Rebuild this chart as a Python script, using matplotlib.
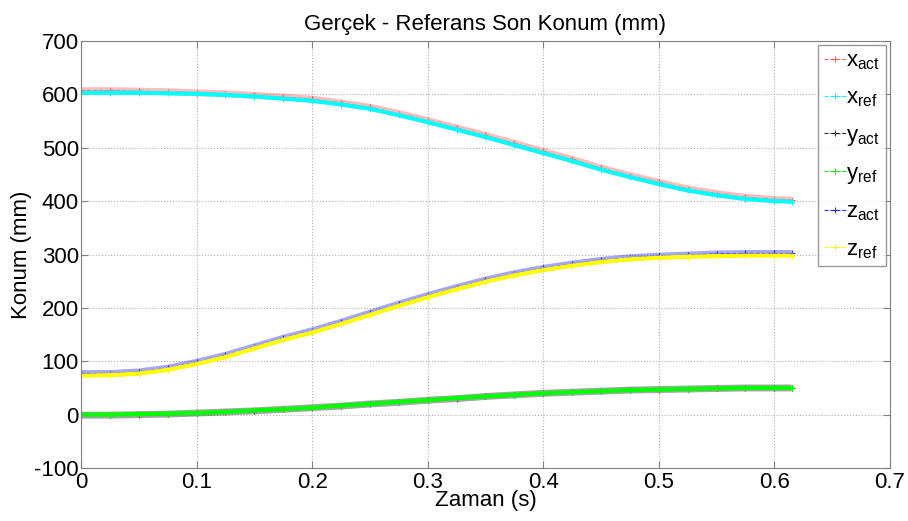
import matplotlib
matplotlib.use("Agg")
import matplotlib.pyplot as plt
import numpy as np

plt.rcParams['font.family'] = ['Liberation Sans', 'DejaVu Sans']
plt.rcParams['mathtext.fontset'] = 'custom'
plt.rcParams['mathtext.rm'] = 'Liberation Sans'
plt.rcParams['mathtext.it'] = 'Liberation Sans'
plt.rcParams['axes.unicode_minus'] = False

# zaman ekseni (s)
t = [0, 0.025, 0.05, 0.075, 0.1, 0.125, 0.15, 0.175, 0.2, 0.225, 0.25, 0.275, 0.3,
     0.325, 0.35, 0.375, 0.4, 0.425, 0.45, 0.475, 0.5, 0.525, 0.55, 0.575, 0.6, 0.615]

x_act = [607, 607, 606, 605, 603, 601, 598, 595, 591, 584, 576, 564, 551,
         537, 523, 508, 493, 478, 462, 448, 435, 423, 414, 407, 403, 402]
x_ref = [603, 603, 603, 602, 601, 599, 596, 592, 588, 581, 573, 561, 548,
         534, 520, 505, 490, 475, 459, 445, 432, 420, 411, 404, 400, 399]
y_act = [-1, -1, 0, 1, 3, 5, 7, 10, 13, 16, 20, 23, 27,
         30, 34, 37, 40, 42, 44, 46, 47, 48, 49, 50, 50, 50]
y_ref = [0, 0, 1, 2, 3, 5, 8, 10, 13, 17, 20, 24, 27,
         31, 34, 37, 40, 42, 44, 46, 47, 48, 49, 50, 50, 50]
z_act = [77, 77, 80, 87, 98, 111, 127, 143, 157, 173, 190, 207, 223,
         238, 252, 264, 274, 282, 289, 294, 297, 299, 301, 302, 302, 302]
z_ref = [73, 74, 77, 84, 95, 108, 124, 140, 154, 170, 187, 204, 220,
         235, 249, 261, 271, 279, 286, 291, 294, 296, 297, 298, 298, 298]

labels = ['x$_{act}$', 'x$_{ref}$', 'y$_{act}$', 'y$_{ref}$', 'z$_{act}$', 'z$_{ref}$']
colors = ['#ff4040', '#00ffff', '#000000', '#00ff00', '#0000ff', '#ffff00']
series = [x_act, x_ref, y_act, y_ref, z_act, z_ref]

fig = plt.figure(figsize=(9.08, 5.21), dpi=100)
ax = fig.add_axes([0.0892, 0.1017, 0.8908, 0.8196])

lines = []
for i, (vals, col, lab) in enumerate(zip(series, colors, labels)):
    is_act = (i % 2 == 0)
    lw = 5 if is_act else 3
    alpha = 0.35 if is_act else 1.0
    ax.plot(t, vals, '-', color=col, lw=lw, alpha=alpha, solid_capstyle='butt')
    ln, = ax.plot(t, vals, '--', color=col, lw=0.8, marker='+', markersize=5,
                  markeredgewidth=0.8, label=lab, alpha=0.8 if is_act else 1.0)
    lines.append(ln)

ax.set_xlim(0, 0.7)
ax.set_ylim(-100, 700)
ax.set_xticks(np.arange(0, 0.71, 0.1))
ax.set_xticklabels(['0', '0.1', '0.2', '0.3', '0.4', '0.5', '0.6', '0.7'])
ax.set_yticks(np.arange(-100, 701, 100))
ax.grid(True, linestyle=':', color='#b0b0b0', lw=0.8)
ax.set_axisbelow(True)

for sp in ax.spines.values():
    sp.set_color('#808080')
ax.tick_params(direction='in', top=True, right=True, length=5, color='#808080',
               labelsize=16, labelcolor='black')
ax.tick_params(axis='x', pad=3)
ax.tick_params(axis='y', pad=1.5)

ax.set_title('Gerçek - Referans Son Konum (mm)', fontsize=16, pad=8)
ax.set_xlabel('Zaman (s)', fontsize=16, labelpad=-2)
ax.set_ylabel('Konum (mm)', fontsize=16, labelpad=2)

leg = ax.legend(handles=lines, loc='upper right', bbox_to_anchor=(0.995, 0.991),
                fontsize=16, frameon=True, fancybox=False, edgecolor='#808080',
                handlelength=1.0, handletextpad=0.0, labelspacing=0.7,
                borderpad=0.25, borderaxespad=0)
leg.get_frame().set_linewidth(1.0)

fig.savefig('out.png', dpi=100)
